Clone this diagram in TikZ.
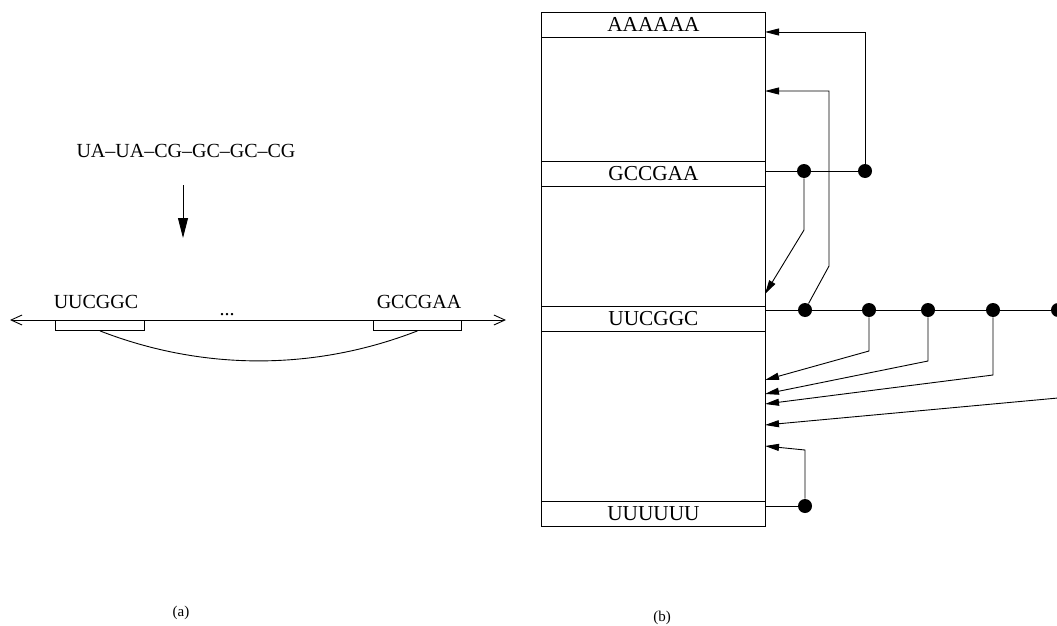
\documentclass[tikz,border=0pt]{standalone}
\usepackage{fontspec}
\setmainfont{Liberation Serif}
\usetikzlibrary{arrows.meta}

\tikzset{
  every path/.style={line width=0.9pt},
  rowbox/.style={draw, line width=0.9pt, minimum width=224pt, minimum height=25pt,
                 inner sep=0pt, anchor=north west, font=\fontsize{21.3}{24}\selectfont},
  seqbox/.style={draw, line width=0.9pt, minimum height=10pt, inner sep=0pt, anchor=north west},
  seqlabel/.style={anchor=base, inner sep=0pt, font=\fontsize{20}{22}\selectfont},
  caption/.style={inner sep=0pt, font=\fontsize{15}{17}\selectfont},
  dot/.style={circle, fill=black, inner sep=0pt, minimum size=14pt},
  ptr/.style={-{Triangle[length=14pt, width=7pt]}},
  bigptr/.style={-{Triangle[length=20pt, width=10pt]}},
  strand/.style={{Straight Barb[length=11pt, width=10pt]}-{Straight Barb[length=11pt, width=10pt]}},
}

\begin{document}
\begin{tikzpicture}[x=1pt, y=-1pt]
\useasboundingbox (0,0) rectangle (1057,626);

% ---------- (a) hairpin on the strand ----------
\node[seqlabel] (pairs) at (186,157) {UA--UA--CG--GC--GC--CG};
\coordinate (downA) at (183,185);
\coordinate (downB) at (183,238);
\draw[bigptr] (downA) -- (downB);

\coordinate (strandL) at (10,320);
\coordinate (strandR) at (506,320);
\draw[strand] (strandL) -- (strandR);

\node[seqbox, minimum width=89pt] (b1) at (55,320) {};
\node[seqbox, minimum width=88pt] (b2) at (373,320) {};
\node[seqlabel] (lab1) at (96,308) {UUCGGC};
\node[seqlabel] (lab2) at (419,308) {GCCGAA};
\node[seqlabel] (gap) at (227,315) {...};
\draw (b1.south) .. controls +(103,40) and +(-103,40) .. (b2.south);

\node[caption] (capa) at (181,613) {(a)};

% ---------- (b) table of subsequences ----------
\node[rowbox, minimum height=514pt] (mem) at (541,12) {};
\node[rowbox] (rowA) at (541,12) {AAAAAA};
\node[rowbox] (rowG) at (541,161) {GCCGAA};
\node[rowbox] (rowC) at (541,306) {UUCGGC};
\node[rowbox] (rowU) at (541,501) {UUUUUU};

% points on the right edge of the table
\coordinate (t1) at (765,32);
\coordinate (t2) at (765,91);
\coordinate (t3) at (765,294);
\coordinate (t4) at (765,380);
\coordinate (t5) at (765,394);
\coordinate (t6) at (765,404);
\coordinate (t7) at (765,425);
\coordinate (t8) at (765,446);

% GCCGAA entries
\node[dot] (g1) at (804,171) {};
\node[dot] (g2) at (865,171) {};
\draw (rowG.east |- g1) -- (g1) -- (g2);
\draw[ptr] (g2) |- (t1);
\draw[ptr] (g1) -- (804,230) -- (t3);

% UUCGGC entries
\node[dot] (c1) at (805,310) {};
\node[dot] (c2) at (869,310) {};
\node[dot] (c3) at (928,310) {};
\node[dot] (c4) at (993,310) {};
\node[dot] (c5) at (1058,310) {};
\draw (rowC.east |- c1) -- (c1) -- (c2) -- (c3) -- (c4) -- (c5);
\draw[ptr] (c1) -- (829,266) -- (829,91) -- (t2);
\draw[ptr] (c2) -- (869,351) -- (t4);
\draw[ptr] (c3) -- (928,361) -- (t5);
\draw[ptr] (c4) -- (993,375) -- (t6);
\draw[ptr] (c5) -- (1058,398) -- (t7);

% UUUUUU entry
\node[dot] (u1) at (805,506) {};
\draw (rowU.east |- u1) -- (u1);
\draw[ptr] (u1) -- (805,450) -- (t8);

\node[caption] (capb) at (662,618) {(b)};
\end{tikzpicture}
\end{document}
